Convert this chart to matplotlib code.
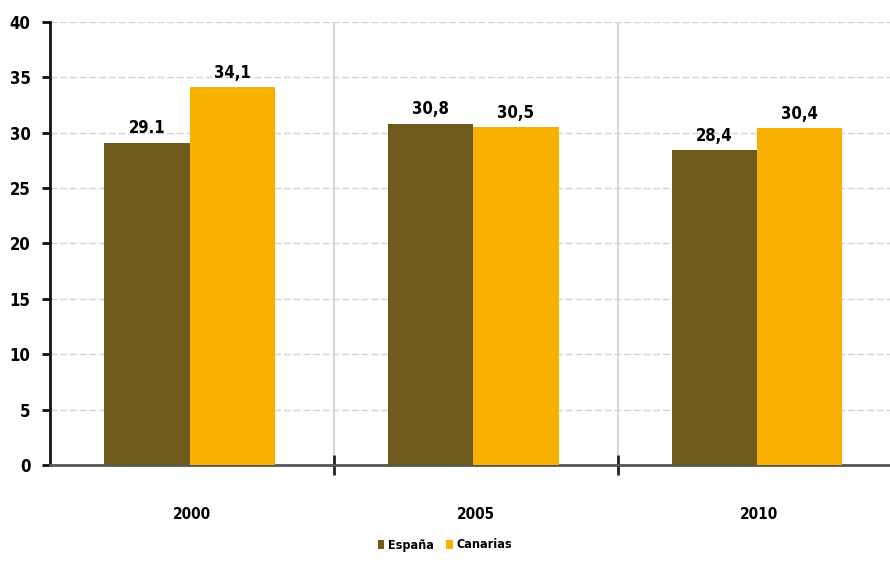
import matplotlib
matplotlib.use("Agg")
import matplotlib.pyplot as plt
import numpy as np

years = ["2000", "2005", "2010"]
series_names = ["España", "Canarias"]
espana = [29.1, 30.8, 28.4]
canarias = [34.1, 30.5, 30.4]
espana_labels = ["29.1", "30,8", "28,4"]
canarias_labels = ["34,1", "30,5", "30,4"]
yticks = [0, 5, 10, 15, 20, 25, 30, 35, 40]

col_es = "#6E5A1C"
col_ca = "#F9B000"
fp = dict(family="DejaVu Sans", fontstretch="condensed", fontweight="bold")

fig = plt.figure(figsize=(8.9, 5.68), dpi=100)
ax = fig.add_axes([50/890, 1-465/568, (890-50)/890, (465-22)/568])

x = np.arange(len(years))
w = 0.30
b1 = ax.bar(x - w/2 - 0.008, espana, w, color=col_es, label=series_names[0], zorder=3)
b2 = ax.bar(x + w/2 - 0.008, canarias, w, color=col_ca, label=series_names[1], zorder=3)

for rect, lab in zip(b1, espana_labels):
    ax.text(rect.get_x() + rect.get_width()/2, rect.get_height() + 0.5, lab,
            ha="center", va="bottom", fontsize=12, **fp)
for rect, lab in zip(b2, canarias_labels):
    ax.text(rect.get_x() + rect.get_width()/2, rect.get_height() + 0.5, lab,
            ha="center", va="bottom", fontsize=12, **fp)

ax.set_xlim(-0.5, 2.46)
ax.set_ylim(0, 40)
ax.set_yticks(yticks)
ax.set_yticklabels([str(v) for v in yticks], fontsize=12, **fp)
ax.set_xticks(x)
ax.set_xticklabels(years, fontsize=11, **fp)
ax.tick_params(axis="x", which="major", length=0, pad=30)
ax.set_xticks([0.5, 1.5], minor=True)
ax.tick_params(axis="x", which="minor", length=14, width=2, direction="inout", color="#222222")
ax.tick_params(axis="y", length=6, width=2, direction="out", color="#111111", pad=8)

ax.yaxis.grid(True, color="#d4d4d4", linestyle=(0, (5, 2)), linewidth=1.0, zorder=0)
for xv in [0.5, 1.5]:
    ax.axvline(xv, color="#d0d0d0", linewidth=1.2, zorder=0)

for s in ["top", "right"]:
    ax.spines[s].set_visible(False)
ax.spines["left"].set_linewidth(2)
ax.spines["left"].set_color("#111111")
ax.spines["bottom"].set_linewidth(2)
ax.spines["bottom"].set_color("#555555")

fig.legend(handles=[b1, b2], labels=series_names, loc="center",
           bbox_to_anchor=(445/890, 1-545/568), ncol=2, frameon=False,
           handlelength=0.5, handleheight=0.7, handletextpad=0.3, columnspacing=1.0,
           prop={"family": "DejaVu Sans", "stretch": "condensed", "size": 9, "weight": "bold"})

fig.savefig("out.png", dpi=100)
